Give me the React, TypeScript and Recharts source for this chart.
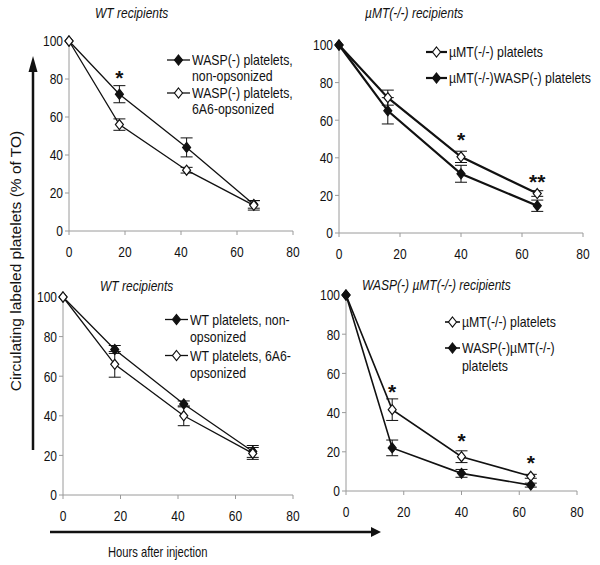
import React from "react";
import { LineChart, Line, XAxis, YAxis, ErrorBar, Legend, ReferenceDot } from "recharts";

// top left: WT recipients
const hoursWt1 = [0, 18, 42, 66];
const waspNonOps = [100, 72, 44, 14];
const waspNonOpsErr = [0, 4.5, 5, 2];
const waspOps = [100, 56, 32, 13.5];
const waspOpsErr = [0, 3, 1.5, 2.5];
const starsWt1 = [{ x: 18, y: 83, text: "*" }];

// top right: uMT(-/-) recipients
const hoursMt = [0, 16, 40, 65];
const mtPlt = [100, 72, 40.5, 21];
const mtPltErr = [0, 4, 3, 1.5];
const mtWaspPlt = [100, 65, 31.5, 14.5];
const mtWaspPltErr = [0, 7, 4.5, 3];
const starsMt = [
  { x: 40, y: 52, text: "*" },
  { x: 65, y: 30, text: "**" },
];

// bottom left: WT recipients
const hoursWt2 = [0, 18, 42, 66];
const wtNonOps = [100, 73.5, 46, 22];
const wtNonOpsErr = [0, 2, 1.5, 3];
const wtOps = [100, 66, 40, 21];
const wtOpsErr = [0, 6.5, 5, 3];

// bottom right: WASP(-) uMT(-/-) recipients
const hoursDko = [0, 16, 40, 64];
const dkoMtPlt = [100, 41.5, 17.5, 7.5];
const dkoMtPltErr = [0, 5.5, 3, 1];
const dkoWaspMtPlt = [100, 22, 9, 3];
const dkoWaspMtPltErr = [0, 4, 2, 1];
const starsDko = [
  { x: 16, y: 53, text: "*" },
  { x: 40, y: 28, text: "*" },
  { x: 64, y: 17, text: "*" },
];

const xTicks = [0, 20, 40, 60, 80];
const yTicks = [0, 20, 40, 60, 80, 100];

const SANS = '"Liberation Sans", Arial, sans-serif';
const INK = "#111";
const AXIS = "#9a9a9a";
const SQUEEZE = 0.8; // the source figure is set in a narrow face

const YW = 36;
const MT = 10;
const MR = 12;
const XH = 34;

function diamond(cx: number, cy: number) {
  return `M${cx},${cy - 5} L${cx + 4},${cy} L${cx},${cy + 5} L${cx - 4},${cy} Z`;
}

function makeDot(filled: boolean) {
  return (p: any) => (
    <path
      key={`${p.dataKey}-${p.index}`}
      d={diamond(p.cx, p.cy)}
      fill={filled ? INK : "#fff"}
      stroke={INK}
      strokeWidth={1.2}
    />
  );
}

const NarrowTick = (p: any) => {
  const isY = p.textAnchor === "end";
  return (
    <g transform={`translate(${p.x},${p.y})`}>
      <text
        transform={`scale(${SQUEEZE},1)`}
        y={isY ? 5.4 : 11}
        textAnchor={p.textAnchor}
        fontSize={15}
        fontFamily={SANS}
        fill={INK}
      >
        {p.payload.value}
      </text>
    </g>
  );
};

type Series = { label: string[]; values: number[]; err: number[]; filled: boolean };

function Panel(props: {
  title: string;
  hours: number[];
  series: Series[];
  stars: { x: number; y: number; text: string }[];
  plot: { x: number; y: number; w: number; h: number };
  legend: { x: number; y: number; lh: number; gap: number; seg: number };
  titlePos: { x: number; y: number };
  lineWidth: number;
}) {
  const { plot, legend, series, hours } = props;
  const left = plot.x - YW;
  const top = plot.y - MT;
  const width = YW + plot.w + MR;
  const height = MT + plot.h + XH;
  const rows = hours.map((h, i) => {
    const r: any = { h };
    series.forEach((s, k) => {
      r[`s${k}`] = s.values[i];
      r[`e${k}`] = s.err[i];
    });
    return r;
  });

  const legendContent = () => (
    <div style={{ fontFamily: SANS, fontSize: 15, lineHeight: `${legend.lh}px`, color: INK, whiteSpace: "nowrap" }}>
      {series.map((s, i) => (
        <div key={i} style={{ display: "flex", alignItems: "flex-start", marginBottom: legend.gap }}>
          <svg width={legend.seg + 2} height={legend.lh} style={{ flex: "none" }}>
            <line x1={0} y1={legend.lh / 2} x2={legend.seg} y2={legend.lh / 2} stroke={INK} strokeWidth={props.lineWidth} />
            <path d={diamond(legend.seg / 2, legend.lh / 2)} fill={s.filled ? INK : "#fff"} stroke={INK} strokeWidth={1.2} />
          </svg>
          <div style={{ transform: `scaleX(0.82)`, transformOrigin: "left top" }}>
            {s.label.map((t, j) => (
              <div key={j}>{t}</div>
            ))}
          </div>
        </div>
      ))}
    </div>
  );

  return (
    <>
      <div
        style={{
          position: "absolute",
          left: props.titlePos.x,
          top: props.titlePos.y - 9,
          fontFamily: SANS,
          fontStyle: "italic",
          fontSize: 15,
          lineHeight: "18px",
          color: INK,
          whiteSpace: "nowrap",
          transform: `scaleX(${SQUEEZE})`,
          transformOrigin: "left top",
        }}
      >
        {props.title}
      </div>
      <div style={{ position: "absolute", left, top }}>
        <LineChart width={width} height={height} data={rows} margin={{ top: MT, right: MR, left: 0, bottom: 0 }}>
          <XAxis
            dataKey="h"
            type="number"
            domain={[0, 80]}
            ticks={xTicks}
            height={XH}
            tickSize={4}
            tickMargin={11}
            stroke={AXIS}
            tick={NarrowTick}
          />
          <YAxis
            type="number"
            domain={[0, 100]}
            ticks={yTicks}
            width={YW}
            tickSize={4}
            tickMargin={2}
            stroke={AXIS}
            tick={NarrowTick}
          />
          <Legend
            layout="vertical"
            align="center"
            verticalAlign="middle"
            content={legendContent}
            wrapperStyle={{ left: legend.x - left, top: legend.y - top, width: 220, height: "auto" }}
          />
          {series.map((s, k) => (
            <Line
              key={k}
              dataKey={`s${k}`}
              stroke={INK}
              strokeWidth={props.lineWidth}
              dot={makeDot(s.filled)}
              activeDot={false}
              isAnimationActive={false}
            >
              <ErrorBar dataKey={`e${k}`} width={6} stroke={INK} strokeWidth={1} direction="y" />
            </Line>
          ))}
          {props.stars.map((st, i) => (
            <ReferenceDot
              key={i}
              x={st.x}
              y={st.y}
              shape={(p: any) => (
                <text x={p.cx} y={p.cy + 12} textAnchor="middle" fontSize={21} fontWeight="bold" fontFamily={SANS} fill={INK}>
                  {st.text}
                </text>
              )}
            />
          ))}
        </LineChart>
      </div>
    </>
  );
}

export default function App() {
  return (
    <div style={{ position: "absolute", left: 0, top: 0, width: 600, height: 565, background: "#fff", overflow: "hidden" }}>
      <Panel
        title="WT recipients"
        hours={hoursWt1}
        series={[
          { label: ["WASP(-) platelets,", "non-opsonized"], values: waspNonOps, err: waspNonOpsErr, filled: true },
          { label: ["WASP(-) platelets,", "6A6-opsonized"], values: waspOps, err: waspOpsErr, filled: false },
        ]}
        stars={starsWt1}
        plot={{ x: 69, y: 41, w: 224, h: 190 }}
        legend={{ x: 167, y: 52, lh: 16, gap: 1, seg: 23 }}
        titlePos={{ x: 95, y: 13 }}
        lineWidth={1.3}
      />
      <Panel
        title="µMT(-/-) recipients"
        hours={hoursMt}
        series={[
          { label: ["µMT(-/-) platelets"], values: mtPlt, err: mtPltErr, filled: false },
          { label: ["µMT(-/-)WASP(-) platelets"], values: mtWaspPlt, err: mtWaspPltErr, filled: true },
        ]}
        stars={starsMt}
        plot={{ x: 339, y: 45, w: 244, h: 188 }}
        legend={{ x: 426, y: 44, lh: 16, gap: 10, seg: 21 }}
        titlePos={{ x: 365, y: 13 }}
        lineWidth={2.2}
      />
      <Panel
        title="WT recipients"
        hours={hoursWt2}
        series={[
          { label: ["WT platelets, non-", "opsonized"], values: wtNonOps, err: wtNonOpsErr, filled: true },
          { label: ["WT platelets, 6A6-", "opsonized"], values: wtOps, err: wtOpsErr, filled: false },
        ]}
        stars={[]}
        plot={{ x: 63, y: 297, w: 230, h: 198 }}
        legend={{ x: 165, y: 311, lh: 17, gap: 2, seg: 23 }}
        titlePos={{ x: 100, y: 286 }}
        lineWidth={1.3}
      />
      <Panel
        title="WASP(-) µMT(-/-) recipients"
        hours={hoursDko}
        series={[
          { label: ["µMT(-/-) platelets"], values: dkoMtPlt, err: dkoMtPltErr, filled: false },
          { label: ["WASP(-)µMT(-/-)", "platelets"], values: dkoWaspMtPlt, err: dkoWaspMtPltErr, filled: true },
        ]}
        stars={starsDko}
        plot={{ x: 346, y: 295, w: 231, h: 196 }}
        legend={{ x: 445, y: 313, lh: 18, gap: 8, seg: 15 }}
        titlePos={{ x: 362, y: 285 }}
        lineWidth={1.6}
      />
      <svg width={600} height={565} style={{ position: "absolute", left: 0, top: 0, pointerEvents: "none" }}>
        <line x1={33} y1={450} x2={33} y2={70} stroke={INK} strokeWidth={2.5} />
        <path d="M33,56 L28.5,72 L37.5,72 Z" fill={INK} />
        <text
          x={17}
          y={261}
          transform="rotate(-90 17 261)"
          textAnchor="middle"
          dominantBaseline="middle"
          fontFamily={SANS}
          fontSize={15.5}
          fill={INK}
        >
          Circulating labeled platelets (% of TO)
        </text>
        <line x1={50} y1={532} x2={374} y2={532} stroke={INK} strokeWidth={2.5} />
        <path d="M381,532 L371,527 L371,537 Z" fill={INK} />
        <g transform="translate(108,557) scale(0.8,1)">
          <text x={0} y={0} fontFamily={SANS} fontSize={14} fill={INK}>
            Hours after injection
          </text>
        </g>
      </svg>
    </div>
  );
}
